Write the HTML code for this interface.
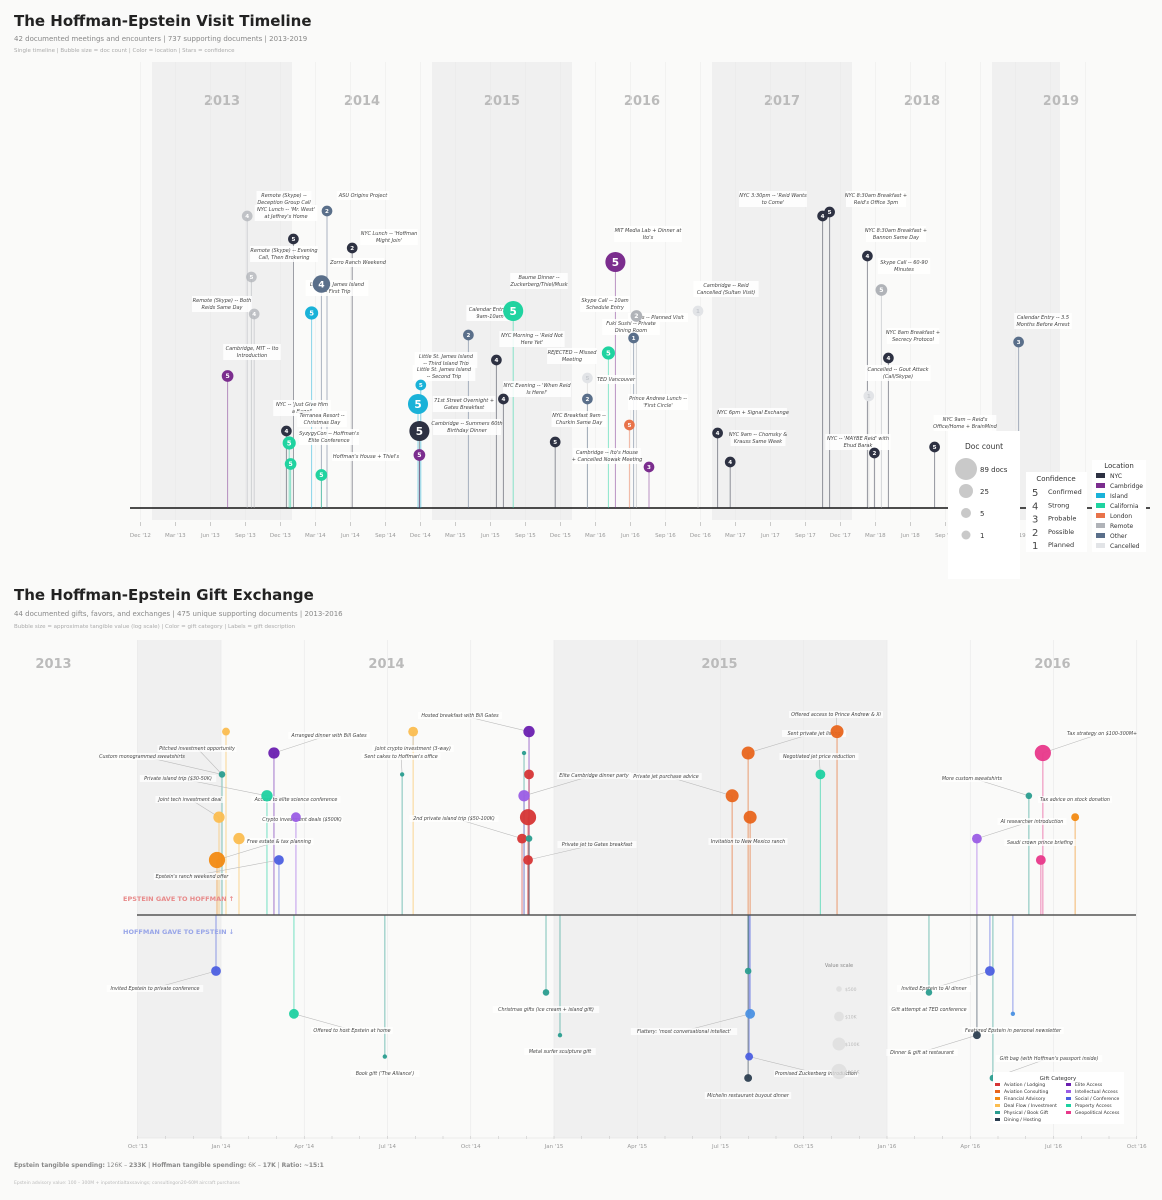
<!DOCTYPE html>
<html><head><meta charset="utf-8"><style>
html,body{margin:0;padding:0;background:#fafaf9;}
svg{display:block;font-family:"DejaVu Sans","Liberation Sans",sans-serif;}
</style></head><body>
<svg id="s" width="1162" height="1200" viewBox="0 0 1162 1200">
<rect width="1162" height="1200" fill="#fafaf9"/>
<text x="14" y="26" font-size="15" font-weight="bold" fill="#222">The Hoffman-Epstein Visit Timeline</text>
<text x="14" y="41" font-size="7" fill="#888">42 documented meetings and encounters  |  737 supporting documents  |  2013-2019</text>
<text x="14" y="52" font-size="5.5" fill="#aaa">Single timeline  |  Bubble size = doc count  |  Color = location  |  Stars = confidence</text>
<text x="14" y="600" font-size="15" font-weight="bold" fill="#222">The Hoffman-Epstein Gift Exchange</text>
<text x="14" y="616" font-size="7" fill="#888">44 documented gifts, favors, and exchanges  |  475 unique supporting documents  |  2013-2016</text>
<text x="14" y="628" font-size="5.5" fill="#aaa">Bubble size = approximate tangible value (log scale)  |  Color = gift category  |  Labels = gift description</text>
<text x="14" y="1167" font-size="6" fill="#888"><tspan font-weight="bold">Epstein tangible spending:</tspan> 126K – <tspan font-weight="bold">233K</tspan>  |  <tspan font-weight="bold">Hoffman tangible spending:</tspan> 6K – <tspan font-weight="bold">17K</tspan>  |  <tspan font-weight="bold">Ratio: ~15:1</tspan></text>
<text x="14" y="1184" font-size="4.5" fill="#bbb">Epstein advisory value: 100 – 300M + inpotentialtaxsavings; consultingon20-60M aircraft purchases</text>
<g id="c1"></g><g id="c2"></g>
</svg>
<script>
// ===== Chart 1 data =====
const visitDates=[2013.54,2013.68,2013.71,2013.73,2013.96,2013.98,2013.99,2014.01,2014.14,2014.21,2014.21,2014.25,2014.43,2014.91,2014.91,2014.90,2014.92,2015.26,2015.46,2015.51,2015.58,2015.88,2016.11,2016.11,2016.26,2016.31,2016.41,2016.44,2016.46,2016.55,2016.90,2017.04,2017.13,2017.79,2017.84,2018.11,2018.12,2018.16,2018.21,2018.26,2018.59,2019.19];
const visitHeights=[132,292,231,194,77,65,44,269,195,224,33,297,260,53,77,104,123,173,148,109,197,66,130,109,155,246,83,170,192,41,197,75,46,292,296,252,112,55,218,150,61,166];
const visitLocations=["Cambridge","Remote","Remote","Remote","NYC","California","California","NYC","Island","Other","California","Other","NYC","Cambridge","NYC","Island","Island","Other","NYC","NYC","California","NYC","Cancelled","Other","California","Cambridge","London","Other","Remote","Cambridge","Cancelled","NYC","NYC","NYC","NYC","NYC","Cancelled","NYC","Remote","NYC","NYC","Other"];
const visitConfidence=[5,4,5,4,4,5,5,5,5,4,5,2,2,5,5,5,5,2,4,4,5,5,5,2,5,5,5,1,2,3,1,4,4,4,5,4,1,2,5,4,5,3];
const visitDocs=[5,2,2,2,2,12,5,2,12,50,5,2,2,5,85,85,2,2,2,2,85,2,2,2,12,85,2,2,5,2,2,2,2,2,2,2,2,2,5,2,2,2];
const visitLabels=[["Remote (Skype) --|Deception Group Call",284,197],["ASU Origins Project",363,197],["NYC Lunch -- 'Mr. West'|at Jeffrey's Home",286,211],["NYC Lunch -- 'Hoffman|Might Join'",389,235],["Remote (Skype) -- Evening|Call, Then Brokering",284,252],["Zorro Ranch Weekend",358,264],["Little St. James Island|-- First Trip",337,286],["Remote (Skype) -- Both|Reids Same Day",222,302],["Cambridge, MIT -- Ito|Introduction",252,350],["NYC -- 'Just Give Him|a Bagel'",302,406],["Terranea Resort --|Christmas Day",322,417],["SyzygyCon -- Hoffman's|Elite Conference",329,435],["Hoffman's House + Thiel's",366,458],["Little St. James Island|-- Third Island Trip",446,358],["Little St. James Island|-- Second Trip",444,371],["71st Street Overnight +|Gates Breakfast",464,402],["Cambridge -- Summers 60th|Birthday Dinner",467,425],["Calendar Entry --|9am-10am",490,311],["Baume Dinner --|Zuckerberg/Thiel/Musk",539,279],["NYC Morning -- 'Reid Not|Here Yet'",532,337],["REJECTED -- Missed|Meeting",572,354],["NYC Evening -- 'When Reid|Is Here!'",537,387],["TED Vancouver",616,381],["NYC Breakfast 9am --|Churkin Same Day",579,417],["Cambridge -- Ito's House|+ Cancelled Nowak Meeting",607,454],["Skype Call -- 10am|Schedule Entry",605,302],["MIT Media Lab + Dinner at|Ito's",648,232],["Paris -- Planned Visit",658,319],["Fuki Sushi -- Private|Dining Room",631,325],["Prince Andrew Lunch --|'First Circle'",658,400],["Cambridge -- Reid|Cancelled (Sultan Visit)",726,287],["NYC 6pm + Signal Exchange",753,414],["NYC 9am -- Chomsky &|Krauss Same Week",758,436],["NYC 3:30pm -- 'Reid Wants|to Come'",773,197],["NYC 8:30am Breakfast +|Reid's Office 3pm",876,197],["NYC 8:30am Breakfast +|Bannon Same Day",896,232],["Skype Call -- 60-90|Minutes",904,264],["NYC 8am Breakfast +|Secrecy Protocol",913,334],["Cancelled -- Gout Attack|(Call/Skype)",898,371],["NYC -- 'MAYBE Reid' with|Ehud Barak",858,440],["NYC 9am -- Reid's|Office/Home + BrainMind",965,421],["Calendar Entry -- 3.5|Months Before Arrest",1043,319]];
const visitTickLabels=["Dec '12","Mar '13","Jun '13","Sep '13","Dec '13","Mar '14","Jun '14","Sep '14","Dec '14","Mar '15","Jun '15","Sep '15","Dec '15","Mar '16","Jun '16","Sep '16","Dec '16","Mar '17","Jun '17","Sep '17","Dec '17","Mar '18","Jun '18","Sep '18","Dec '18","Mar '19","Jun '19"];
const visitYears=[2013,2014,2015,2016,2017,2018,2019];
const locNames=["NYC","Cambridge","Island","California","London","Remote","Other","Cancelled"];
const locColors={NYC:"#2d3142",Cambridge:"#7b2d8e",Island:"#1ab2d8",California:"#20d3a0",London:"#e8734a",Remote:"#b0b3b8",Other:"#5a6f8a",Cancelled:"#e2e4e7"};
const confNames=["Confirmed","Strong","Probable","Possible","Planned"];

// ===== Chart 2 data =====
const giftCats=["Aviation / Lodging","Aviation Consulting","Financial Advisory","Deal Flow / Investment","Physical / Book Gift","Dining / Hosting","Elite Access","Intellectual Access","Social / Conference","Property Access","Geopolitical Access"];
const catColors=["#d63535","#e8651c","#f28a12","#fbbd50","#2a9d8f","#2c3e50","#6a1fb0","#9b5de5","#4c5fe0","#1dd1a1","#e8388a"];
const eGiftDates=[2014.015,2014.003,2013.994,2013.988,2014.054,2014.159,2014.138,2014.174,2014.225,2014.544,2014.577,2014.925,2014.91,2014.925,2014.91,2014.922,2014.904,2014.925,2014.922,2015.583,2015.535,2015.589,2015.80,2015.85,2016.468,2016.426,2016.565,2016.27,2016.462];
const eGiftLanes=[7,5,3,1,2,6,4,1,3,5,7,7,6,5,4,3,2,2,1,6,4,3,5,7,6,4,3,2,1];
const eGiftCats=[3,4,3,2,3,6,9,8,7,4,3,6,4,0,7,0,0,4,0,1,1,1,9,1,10,4,2,7,10];
const eGiftValues=[2500,1000,30000,1000000,30000,30000,30000,10000,10000,200,10000,30000,200,10000,30000,1000000,10000,1000,10000,100000,100000,100000,10000,100000,1000000,1000,2500,10000,10000];
const hGiftDates=[2013.985,2014.219,2014.492,2014.976,2015.018,2015.583,2015.589,2015.586,2015.583,2016.126,2016.309,2016.378,2016.27,2016.318];
const hGiftLanes=[1,3,5,2,4,1,3,5,6,2,1,3,4,6];
const hGiftCats=[8,9,4,4,4,4,8,8,5,4,8,8,5,4];
const hGiftValues=[10000,10000,200,1000,200,1000,10000,2500,2500,1000,10000,200,2500,1000];
const eLabels=[["Arranged dinner with Bill Gates",329,737,5],["Pitched investment opportunity",197,750,1],["Custom monogrammed sweatshirts",142,758,1],["Private island trip ($30-50K)",178,780,6],["Joint tech investment deal",190,801,2],["Access to elite science conference",296,801,6],["Crypto investment deals ($500K)",302,821,8],["Free estate & tax planning",279,843,3],["Epstein's ranch weekend offer",192,878,7],["Hosted breakfast with Bill Gates",460,717,11],["Joint crypto investment (3-way)",413,750,10],["Sent cakes to Hoffman's office",401,758,9],["Elite Cambridge dinner party",594,777,14],["2nd private island trip ($50-100K)",454,820,16],["Private jet to Gates breakfast",597,846,18],["Offered access to Prince Andrew & Xi",836,716,23],["Sent private jet listing",814,735,19],["Private jet purchase advice",666,778,20],["Negotiated jet price reduction",819,758,22],["Invitation to New Mexico ranch",748,843,-1],["Tax strategy on $100-300M+",1102,735,24],["More custom sweatshirts",972,780,25],["Tax advice on stock donation",1075,801,-1],["AI researcher introduction",1032,823,27],["Saudi crown prince briefing",1040,844,-1]];
const hLabels=[["Invited Epstein to private conference",155,990,0],["Offered to host Epstein at home",352,1032,1],["Book gift ('The Alliance')",385,1075,-1],["Christmas gifts (ice cream + island gift)",546,1011,-1],["Metal surfer sculpture gift",560,1053,-1],["Flattery: 'most conversational intellect'",684,1033,6],["Promised Zuckerberg introduction",816,1075,7],["Michelin restaurant buyout dinner",748,1097,-1],["Invited Epstein to AI dinner",934,990,10],["Gift attempt at TED conference",929,1011,-1],["Featured Epstein in personal newsletter",1013,1032,-1],["Dinner & gift at restaurant",922,1054,12],["Gift bag (with Hoffman's passport inside)",1049,1060,13]];
const giftTickLabels=["Oct '13","Jan '14","Apr '14","Jul '14","Oct '14","Jan '15","Apr '15","Jul '15","Oct '15","Jan '16","Apr '16","Jul '16","Oct '16"];
const giftYears=[2013,2014,2015,2016];
const valueScale=[500,10000,100000,500000];
const valueScaleLabels=["$500","$10K","$100K","$500K"];

const NS="http://www.w3.org/2000/svg";
function mk(p,tag,at,name,txt){const e=document.createElementNS(NS,tag);for(const k in at)e.setAttribute(k,at[k]);


if(txt!==undefined)e.textContent=txt;p.appendChild(e);return e;}

// ---- chart 1 ----
const c1=document.getElementById('c1');
const x1=t=>152+(t-2013)*140, base1=508, y1=h=>base1-h;
const rDoc=d=>4.5+Math.sqrt(d)*0.6;
visitYears.forEach((yr,i)=>{const a=x1(yr),b=Math.min(x1(yr+1),1060);
 if(i%2==0)mk(c1,'rect',{x:a,y:62,width:b-a,height:458,fill:"#f0f0f0"},'year-band');
 mk(c1,'text',{x:(a+Math.min(x1(yr+1),1130))/2,y:105,'font-size':13,'font-weight':'bold',fill:'#bbb','text-anchor':'middle'},'year-label',String(yr));});
for(let i=0;i<28;i++){const x=x1(2012.917+i*0.25);if(x>1150)break;
 mk(c1,'line',{x1:x,x2:x,y1:62,y2:520,stroke:'#e9e9e9','stroke-width':0.5},'grid-line');}
mk(c1,'line',{x1:130,x2:1150,y1:base1,y2:base1,stroke:'#333','stroke-width':1.8},'baseline');
visitTickLabels.forEach((l,i)=>{const x=x1(2012.917+i*0.25);
 mk(c1,'line',{x1:x,x2:x,y1:base1+14,y2:base1+18,stroke:'#aaa','stroke-width':0.6},'x-tick');
 mk(c1,'text',{x:x,y:537,'font-size':5.5,fill:'#999','text-anchor':'middle'},'x-tick-label',l);});
visitDates.forEach((t,i)=>{const c=locColors[visitLocations[i]],x=x1(t),y=y1(visitHeights[i]);
 mk(c1,'line',{x1:x,x2:x,y1:base1,y2:y,stroke:c==='#e2e4e7'?'#ccc':c,'stroke-width':1,opacity:0.5},'visit-stem');});
visitLabels.forEach(l=>{const lines=l[0].split('|'),w=Math.max(...lines.map(s=>s.length))*2.55+4;
 const g=mk(c1,'g',{},'visit-label');
 mk(g,'rect',{x:l[1]-w/2,y:l[2]-6,width:w,height:lines.length*7+2,fill:'#fff',opacity:0.85},'visit-label-box');
 lines.forEach((s,j)=>mk(g,'text',{x:l[1],y:l[2]+j*7,'font-size':5,'font-style':'italic',fill:'#444','text-anchor':'middle'},'visit-label-text',s));});
visitDates.forEach((t,i)=>{const loc=visitLocations[i],c=locColors[loc],x=x1(t),y=y1(visitHeights[i]),r=rDoc(visitDocs[i]);
 const g=mk(c1,'g',{},'visit-bubble');
 mk(g,'circle',{cx:x,cy:y,r:r,fill:c,opacity:loc==='Remote'&&visitDates[i]<2014?0.75:1},'visit-bubble-circle');
 mk(g,'text',{x:x,y:y+r*0.38,'font-size':r*1.05,'font-weight':'bold',fill:loc==='Cancelled'?'#c8cbd0':'#fff','text-anchor':'middle'},'confidence-number',String(visitConfidence[i]));});
// legends
let g=mk(c1,'g',{},'doc-count-legend');
mk(g,'rect',{x:948,y:431,width:72,height:148,fill:'#fff'},'legend-box');
mk(g,'text',{x:984,y:449,'font-size':7.5,fill:'#333','text-anchor':'middle'},'legend-title','Doc count');
[[89,"89 docs",469,11],[25,"25",491,7],[5,"5",513,5],[1,"1",535,4.5]].forEach(d=>{mk(g,'circle',{cx:966,cy:d[2],r:d[3],fill:'#c9c9c9'},'doc-size-swatch');mk(g,'text',{x:980,y:d[2]+3,'font-size':7,fill:'#333'},'doc-size-label',d[1]);});
g=mk(c1,'g',{},'confidence-legend');
mk(g,'rect',{x:1026,y:472,width:61,height:80,fill:'#fff'},'legend-box');
mk(g,'text',{x:1056,y:481,'font-size':7,fill:'#333','text-anchor':'middle'},'legend-title','Confidence');
confNames.forEach((n,i)=>{mk(g,'text',{x:1032,y:496+i*13.3,'font-size':10,fill:'#444'},'confidence-digit',String(5-i));mk(g,'text',{x:1048,y:494+i*13.3,'font-size':6.5,fill:'#333'},'confidence-name',n);});
g=mk(c1,'g',{},'location-legend');
mk(g,'rect',{x:1092,y:460,width:54,height:92,fill:'#fff'},'legend-box');
mk(g,'text',{x:1119,y:468,'font-size':7,fill:'#333','text-anchor':'middle'},'legend-title','Location');
locNames.forEach((n,i)=>{mk(g,'rect',{x:1096,y:473+i*10,width:9,height:5,fill:locColors[n]},'location-swatch');mk(g,'text',{x:1110,y:478+i*10,'font-size':6,fill:'#333'},'location-name',n);});

// ---- chart 2 ----
const c2=document.getElementById('c2');
const x2=t=>221+(t-2014)*333, base2=915;
const yUp=l=>860-(l-1)*21.4, yDn=l=>971+(l-1)*21.4;
const rVal=v=>Math.max(1.8,1.6*Math.log10(v)-1.5);
mk(c2,'rect',{x:137,y:640,width:84,height:498,fill:'#f0f0f0'},'year-band');
mk(c2,'rect',{x:x2(2015),y:640,width:333,height:498,fill:'#f0f0f0'},'year-band');
giftYears.forEach(yr=>mk(c2,'text',{x:x2(yr+0.5)-1,y:668,'font-size':13,'font-weight':'bold',fill:'#bbb','text-anchor':'middle'},'year-label',String(yr)));
giftTickLabels.forEach((l,i)=>{const x=x2(2013.75+i*0.25);
 mk(c2,'line',{x1:x,x2:x,y1:640,y2:1138,stroke:'#e8e8e8','stroke-width':0.6},'grid-line');
 mk(c2,'text',{x:x,y:1148,'font-size':5.5,fill:'#999','text-anchor':'middle'},'x-tick-label',l);});
for(let i=0;i<37;i++){const x=x2(2013.75+i/12);mk(c2,'line',{x1:x,x2:x,y1:1136,y2:1139,stroke:'#bbb','stroke-width':0.5},'x-minor-tick');}
mk(c2,'line',{x1:137,x2:1136,y1:1138,y2:1138,stroke:'#ddd','stroke-width':0.6},'x-axis');
eGiftDates.forEach((t,i)=>mk(c2,'line',{x1:x2(t),x2:x2(t),y1:base2,y2:yUp(eGiftLanes[i]),stroke:catColors[eGiftCats[i]],'stroke-width':1.2,opacity:0.5},'gift-stem'));
hGiftDates.forEach((t,i)=>mk(c2,'line',{x1:x2(t),x2:x2(t),y1:base2,y2:yDn(hGiftLanes[i]),stroke:catColors[hGiftCats[i]],'stroke-width':1.2,opacity:0.5},'gift-stem'));
mk(c2,'line',{x1:137,x2:1136,y1:base2,y2:base2,stroke:'#555','stroke-width':1.6},'zero-line');
mk(c2,'text',{x:123,y:901,'font-size':6.5,'font-weight':'bold',fill:'#e88a8a'},'epstein-gave-label','EPSTEIN GAVE TO HOFFMAN  ↑');
mk(c2,'text',{x:123,y:934,'font-size':6.5,'font-weight':'bold',fill:'#99a6e8'},'hoffman-gave-label','HOFFMAN GAVE TO EPSTEIN  ↓');
function lbl(L,dates,lanes,yf){L.forEach(l=>{const gg=mk(c2,'g',{},'gift-label');
 if(l[3]>=0)mk(gg,'line',{x1:l[1],y1:l[2]-2,x2:x2(dates[l[3]]),y2:yf(lanes[l[3]]),stroke:'#bbb','stroke-width':0.6},'gift-leader-line');
 const w=l[0].length*2.5+4;mk(gg,'rect',{x:l[1]-w/2,y:l[2]-5,width:w,height:7,fill:'#fff',opacity:0.7},'gift-label-box');
 mk(gg,'text',{x:l[1],y:l[2],'font-size':4.8,'font-style':'italic',fill:'#444','text-anchor':'middle'},'gift-label-text',l[0]);});}
lbl(eLabels,eGiftDates,eGiftLanes,yUp);lbl(hLabels,hGiftDates,hGiftLanes,yDn);
eGiftDates.forEach((t,i)=>mk(c2,'circle',{cx:x2(t),cy:yUp(eGiftLanes[i]),r:rVal(eGiftValues[i]),fill:catColors[eGiftCats[i]],opacity:0.95},'epstein-gift-bubble'));
hGiftDates.forEach((t,i)=>mk(c2,'circle',{cx:x2(t),cy:yDn(hGiftLanes[i]),r:rVal(hGiftValues[i]),fill:i==6||i==11?'#4a90e2':catColors[hGiftCats[i]],opacity:0.95},'hoffman-gift-bubble'));
mk(c2,'text',{x:839,y:967,'font-size':5,fill:'#888','text-anchor':'middle'},'value-scale-title','Value scale');
valueScale.forEach((v,i)=>{const y=989+i*27.5;mk(c2,'circle',{cx:839,cy:y,r:rVal(v),fill:'#ddd',opacity:0.8},'value-scale-circle');mk(c2,'text',{x:845,y:y+2,'font-size':4.5,fill:'#bbb'},'value-scale-label',valueScaleLabels[i]);});
g=mk(c2,'g',{},'gift-category-legend');
mk(g,'rect',{x:993,y:1072,width:131,height:52,fill:'#fff'},'legend-box');
mk(g,'text',{x:1058,y:1080,'font-size':5.5,fill:'#333','text-anchor':'middle'},'legend-title','Gift Category');
giftCats.forEach((n,i)=>{const col=i<6?0:1,row=i<6?i:i-6,x=995+col*71,y=1084+row*7;
 mk(g,'rect',{x:x,y:y-1,width:5,height:3,fill:catColors[i]},'category-swatch');
 mk(g,'text',{x:x+9,y:y+2,'font-size':4.6,fill:'#333'},'category-name',n);});
</script>
</body></html>
